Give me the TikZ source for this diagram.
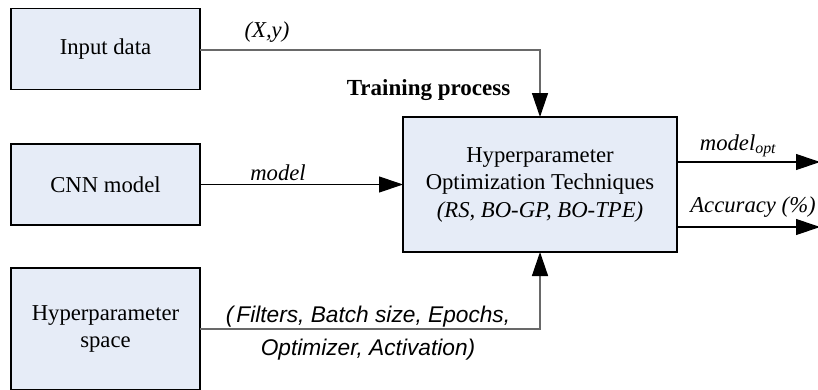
\documentclass[tikz,border=0pt]{standalone}
\usepackage{fontspec}
\setmainfont{Liberation Serif}
\setsansfont{Liberation Sans}
\usetikzlibrary{arrows.meta}
\definecolor{boxfill}{RGB}{230,236,247}
\definecolor{lgray}{RGB}{105,105,105}
\begin{document}
\begin{tikzpicture}[x=1pt,y=-1pt,
  every node/.style={inner sep=0pt, outer sep=0pt},
  blk/.style={draw=black, line width=1.8pt, fill=boxfill, align=center,
    font=\fontsize{22.7}{27.5}\selectfont},
  lbl/.style={anchor=base, font=\fontsize{22.7}{27}\selectfont\itshape},
  conn/.style={line width=1.1pt, -{Triangle[length=24pt,width=16pt,color=black,fill=black]}},
  gconn/.style={conn, draw=lgray, line width=1.4pt}
]
\useasboundingbox (0,0) rectangle (818,389);
\node[blk, minimum width=189pt, minimum height=81pt] (input) at (105.5,49) {Input data};
\node[blk, minimum width=189pt, minimum height=81pt] (cnn) at (105.5,184.5) {CNN model};
\node[blk, minimum width=189pt, minimum height=122pt] (space) at (105.5,329) {Hyperparameter\\space};
\node[blk, minimum width=274pt, minimum height=135pt] (hpo) at (540,184.5)
  {Hyperparameter\\Optimization Techniques\\\itshape (RS, BO-GP, BO-TPE)};

\coordinate (o1) at (820,162);
\coordinate (o2) at (820,227);

\draw[gconn] (input.east |- 0,50) -| (hpo.north);
\draw[conn] (cnn.east) -- (hpo.west);
\draw[gconn] (space.east) -| (hpo.south);
\draw[conn] (hpo.east |- o1) -- (o1);
\draw[conn] (hpo.east |- o2) -- (o2);

\node[lbl] (lxy) at (267,37) {(X,y)};
\node[anchor=base, font=\fontsize{23}{27}\selectfont\bfseries] (ltp) at (428.5,95) {Training process};
\node[lbl] (lmodel) at (278,180) {model};
\node[lbl] (lopt) at (738,150) {model\textsubscript{opt}};
\node[lbl] (lacc) at (753,212) {Accuracy (\%)};
\node[anchor=base, font=\fontsize{22.7}{27}\selectfont\sffamily\itshape] (lf1) at (368,322) {(\hspace{3pt}Filters, Batch size, Epochs,};
\node[anchor=base, font=\fontsize{22.7}{27}\selectfont\sffamily\itshape] (lf2) at (368,355) {Optimizer, Activation)};
\end{tikzpicture}
\end{document}
